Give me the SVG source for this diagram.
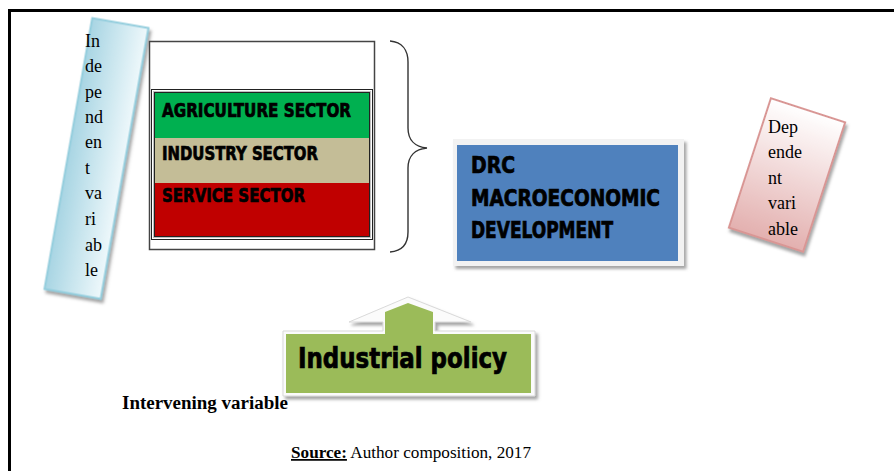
<svg xmlns="http://www.w3.org/2000/svg" width="894" height="471" viewBox="0 0 894 471">
<defs>
<linearGradient id="gBlue" x1="0" y1="0" x2="1" y2="0">
<stop offset="0" stop-color="#a8d5e3"/>
<stop offset="1" stop-color="#eef8fb"/>
</linearGradient>
<linearGradient id="gPink" x1="0" y1="0" x2="0" y2="1">
<stop offset="0" stop-color="#ffffff"/>
<stop offset="1" stop-color="#e3b0af"/>
</linearGradient>
<filter id="sh" x="-20%" y="-20%" width="140%" height="140%">
<feDropShadow dx="2.5" dy="3" stdDeviation="1.5" flood-color="#7f7f7f" flood-opacity="0.7"/>
</filter>
</defs>
<style>
.ser{font-family:"Liberation Serif","Times New Roman",serif;fill:#000}
.imp{font-family:"DejaVu Sans Condensed","Liberation Sans",Arial,sans-serif;font-weight:bold;fill:#000;stroke:#000;stroke-width:0.7}
.brace{fill:none;stroke:#333;stroke-width:1.4}
</style>
<rect width="894" height="471" fill="#fff"/>
<g id="frame" fill="none" stroke="#000" stroke-width="3">
<path d="M9.5,471 V10.5 H894"/>
</g>
<g id="independent">
<rect x="-28.5" y="-137.5" width="57" height="275" transform="translate(96.5,158.5) rotate(10)" fill="url(#gBlue)" stroke="#93cddd" stroke-width="2" filter="url(#sh)"/>
<g class="ser" font-size="18">
<text x="85" y="47">In</text>
<text x="85" y="72">de</text>
<text x="85" y="98">pe</text>
<text x="85" y="123">nd</text>
<text x="85" y="148">en</text>
<text x="85" y="174">t</text>
<text x="85" y="199">va</text>
<text x="85" y="225">ri</text>
<text x="85" y="251">ab</text>
<text x="85" y="276">le</text>
</g>
</g>
<g id="sectors">
<rect x="149.5" y="41.5" width="225" height="208" fill="#fff" stroke="#444" stroke-width="1.5"/>
<rect x="151.5" y="89.5" width="221" height="150" fill="#fff" stroke="#222" stroke-width="1"/>
<rect x="153" y="91" width="218" height="147" fill="#bfbfbf"/>
<rect x="154.5" y="92.5" width="215" height="144" fill="#c00000" stroke="#222" stroke-width="1"/>
<rect x="155" y="93" width="214" height="45" fill="#00b050"/>
<rect x="155" y="138" width="214" height="45" fill="#c4bd97"/>
<g class="imp" font-size="20">
<text x="162" y="117" textLength="189" lengthAdjust="spacingAndGlyphs">AGRICULTURE SECTOR</text>
<text x="162" y="160" textLength="156" lengthAdjust="spacingAndGlyphs">INDUSTRY SECTOR</text>
<text x="162" y="202" textLength="143" lengthAdjust="spacingAndGlyphs">SERVICE SECTOR</text>
</g>
</g>
<g id="connectors">
<path class="brace" d="M390,41 C402,42 408,50 408,62 L408,128 C408,140 415,147 427,148 C415,149 408,156 408,168 L408,232 C408,245 402,251 390,252"/>
</g>
<g id="drc">
<rect x="453" y="139" width="231" height="127" fill="#f2f2f2" filter="url(#sh)"/>
<rect x="457" y="145" width="221" height="116" fill="#4f81bd"/>
<g class="imp" font-size="23">
<text x="471" y="173" textLength="44" lengthAdjust="spacingAndGlyphs">DRC</text>
<text x="471" y="206" textLength="189" lengthAdjust="spacingAndGlyphs">MACROECONOMIC</text>
<text x="471" y="238" textLength="142" lengthAdjust="spacingAndGlyphs">DEVELOPMENT</text>
</g>
</g>
<g id="dependent">
<rect x="-39" y="-68" width="78" height="136" transform="translate(787,175) rotate(18)" fill="url(#gPink)" stroke="#d99694" stroke-width="2" filter="url(#sh)"/>
<g class="ser" font-size="18">
<text x="768" y="133">Dep</text>
<text x="768" y="158">ende</text>
<text x="768" y="184">nt</text>
<text x="768" y="209">vari</text>
<text x="768" y="235">able</text>
</g>
</g>
<g id="policy">
<path d="M283,331 H383 V322 H349 L408,297 L471,322 H435 V331 H535 V396 H283 Z" fill="#fbfbfb" stroke="#d9d9d9" stroke-width="1" filter="url(#sh)"/>
<path d="M286,334 H385 V312 L408,303 L433,312 V334 H531 V393 H286 Z" fill="#9bbb59"/>
<text class="imp" x="298" y="368" font-size="29" textLength="209" lengthAdjust="spacingAndGlyphs">Industrial policy</text>
</g>
<text class="ser" x="122" y="409" font-size="18.5" font-weight="bold" textLength="166" lengthAdjust="spacingAndGlyphs">Intervening variable</text>
<text class="ser" x="291" y="458" font-size="17.5" textLength="240" lengthAdjust="spacingAndGlyphs"><tspan font-weight="bold" text-decoration="underline">Source:</tspan> Author composition, 2017</text>
</svg>
